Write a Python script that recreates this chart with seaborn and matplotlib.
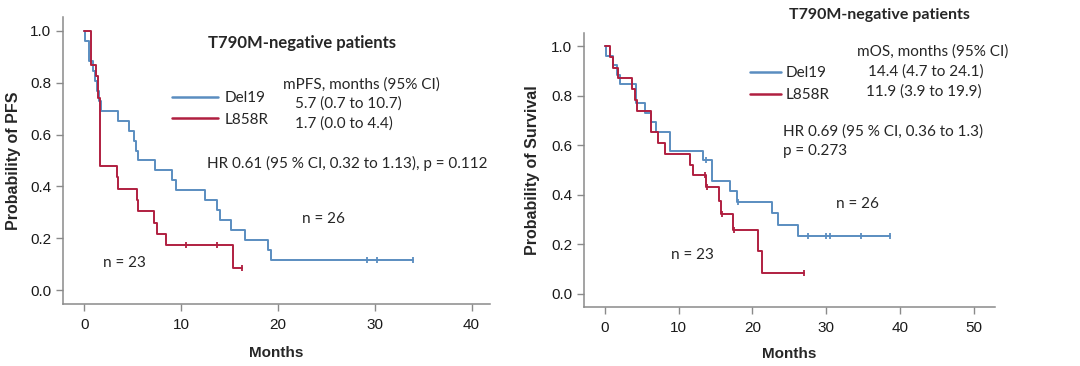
import numpy as np
import pandas as pd
import matplotlib
matplotlib.use("Agg")
import matplotlib.pyplot as plt
import seaborn as sns
from matplotlib.lines import Line2D

# ---------------- data ----------------
groups = ["Del19", "L858R"]

# PFS (left panel) : times in months, event 1 = progression, 0 = censored
pfs_del19_time = [0.1, 0.5, 0.5, 0.9, 1.1, 1.3, 1.5, 1.75, 3.5, 4.6, 5.1, 5.3, 5.6,
                  7.3, 9.1, 9.5, 12.5, 13.7, 14.0, 15.2, 16.6, 19.0, 19.3,
                  29.2, 30.2, 33.9]
pfs_del19_event = [1] * 23 + [0] * 3
pfs_l858r_time = [0.7, 0.7, 0.7, 1.2, 1.4, 1.4, 1.6, 1.6, 1.6, 1.6, 1.6, 1.6,
                  3.4, 3.5, 5.4, 5.6, 7.25, 7.5, 8.45, 10.5, 13.7, 15.4, 16.3]
pfs_l858r_event = [1] * 19 + [0, 0, 1, 0]

# OS (right panel)
os_del19_time = [0.2, 1.1, 1.6, 2.0, 4.2, 4.2, 5.4, 6.3, 6.9, 8.8, 8.8, 13.3,
                 13.7, 14.5, 14.5, 17.0, 17.9, 18.0, 22.6, 23.5, 26.2,
                 27.6, 30.0, 30.5, 34.7, 38.6]
os_del19_event = [1] * 12 + [0] + [1, 1, 1, 1] + [0] + [1, 1, 1] + [0] * 5
os_l858r_time = [0.7, 1.1, 1.7, 3.6, 4.1, 4.4, 6.2, 6.2, 7.2, 8.1, 11.5, 12.0,
                 13.6, 13.7, 13.8, 15.4, 15.8, 15.9, 17.4, 17.5, 20.8, 21.3, 27.0]
os_l858r_event = [1] * 12 + [0, 1, 0, 1, 1, 0, 1, 0, 1, 1, 0]

pfs_title = "T790M-negative patients"
pfs_header = "mPFS, months (95% CI)"
pfs_medians = ["5.7 (0.7 to 10.7)", "1.7 (0.0 to 4.4)"]
pfs_hr = "HR 0.61 (95 % CI, 0.32 to 1.13), p = 0.112"
os_title = "T790M-negative patients"
os_header = "mOS, months (95% CI)"
os_medians = ["14.4 (4.7 to 24.1)", "11.9 (3.9 to 19.9)"]
os_hr = ["HR 0.69 (95 % CI, 0.36 to 1.3)", "p = 0.273"]
n_labels = ["n = 26", "n = 23"]

left_xticks = [0, 10, 20, 30, 40]
right_xticks = [0, 10, 20, 30, 40, 50]
yticks = [0.0, 0.2, 0.4, 0.6, 0.8, 1.0]

BLUE = "#5a8dc0"
RED = "#b01f40"
palette = {"Del19": BLUE, "L858R": RED}


def km(times, events):
    t = np.asarray(times, float)
    e = np.asarray(events, int)
    xs, ys, s = [0.0], [1.0], 1.0
    for u in np.unique(t):
        n = np.sum(t >= u)
        d = np.sum((t == u) & (e == 1))
        if d > 0:
            s *= 1 - d / n
            xs.append(u)
            ys.append(s)
    ev_x = list(xs)
    xs.append(t.max())
    ys.append(s)
    cx = t[e == 0]
    cy = [ys[np.searchsorted(ev_x, c, side="right") - 1] for c in cx]
    return xs, ys, cx, cy


def build(data):
    curves, cens = [], []
    for g, (tt, ee) in zip(groups, data):
        xs, ys, cx, cy = km(tt, ee)
        curves.append(pd.DataFrame({"Months": xs, "S": ys, "Group": g}))
        cens.append(pd.DataFrame({"Months": cx, "S": cy, "Group": g}))
    return pd.concat(curves, ignore_index=True), pd.concat(cens, ignore_index=True)


sns.set_style("ticks")
plt.rcParams["font.family"] = ["Liberation Sans", "DejaVu Sans"]
ANN = ["Lato", "DejaVu Sans"]
SPINE = "#8a8a8a"

fig = plt.figure(figsize=(10.8, 3.66), dpi=100)
ax1 = fig.add_axes([0.0583, 0.1694, 0.3954, 0.7842])
ax2 = fig.add_axes([0.5407, 0.1612, 0.3806, 0.7486])


def draw(ax, data, xlim, xticks):
    cdf, sdf = build(data)
    sns.lineplot(data=cdf, x="Months", y="S", hue="Group", palette=palette,
                 drawstyle="steps-post", estimator=None, sort=False,
                 legend=False, linewidth=1.4, ax=ax)
    for g in groups:
        sub = sdf[sdf["Group"] == g]
        sns.scatterplot(data=sub, x="Months", y="S", color=palette[g],
                        marker="|", s=22, linewidth=1.3, legend=False, ax=ax)
    ax.set_xlim(*xlim)
    ax.set_ylim(-0.053, 1.053)
    ax.set_xticks(xticks)
    ax.set_yticks(yticks)
    ax.set_yticklabels([f"{v:.1f}" for v in yticks])
    sns.despine(ax=ax)
    for sp in ("left", "bottom"):
        ax.spines[sp].set_color(SPINE)
        ax.spines[sp].set_linewidth(1.1)
    ax.tick_params(axis="both", colors=SPINE, labelcolor="#1a1a1a",
                   labelsize=11, length=5, width=1.0)
    ax.tick_params(axis="x", pad=5)
    ax.set_xlabel("Months", fontsize=11, fontweight="bold")


def add_legend(ax, anchor, hl, tp, ls):
    ax.legend(handles=[Line2D([], [], color=palette[g], lw=1.8, label=g) for g in groups],
              frameon=False, prop={"family": ANN, "size": 11},
              loc="upper left", bbox_to_anchor=anchor, borderpad=0,
              borderaxespad=0, handlelength=hl, handletextpad=tp, labelspacing=ls)


# ---- left panel ----
draw(ax1, [(pfs_del19_time, pfs_del19_event), (pfs_l858r_time, pfs_l858r_event)],
     (-2.2, 41.9), left_xticks)
add_legend(ax1, (0.255, 0.742), 3.0, 0.45, 0.5)
ax1.set_ylabel("Probability of PFS", fontsize=11.5, fontweight="bold")
ax1.yaxis.set_label_coords(-0.098, 0.5)
ax1.xaxis.set_label_coords(0.5, -0.148)
T = ax1.transAxes
ax1.text(0.56, 0.909, pfs_title, transform=T, ha="center", va="center",
         fontsize=12, fontweight="bold", family=ANN)
ax1.text(0.515, 0.766, pfs_header, transform=T, ha="left", va="center", fontsize=11, family=ANN)
ax1.text(0.543, 0.700, pfs_medians[0], transform=T, ha="left", va="center", fontsize=11, family=ANN)
ax1.text(0.543, 0.630, pfs_medians[1], transform=T, ha="left", va="center", fontsize=11, family=ANN)
ax1.text(0.337, 0.491, pfs_hr, transform=T, ha="left", va="center", fontsize=11, family=ANN)
ax1.text(0.560, 0.296, n_labels[0], transform=T, ha="left", va="center", fontsize=11, family=ANN)
ax1.text(0.094, 0.143, n_labels[1], transform=T, ha="left", va="center", fontsize=11, family=ANN)

# ---- right panel ----
draw(ax2, [(os_del19_time, os_del19_event), (os_l858r_time, os_l858r_event)],
     (-2.85, 52.9), right_xticks)
add_legend(ax2, (0.404, 0.878), 2.0, 0.35, 0.5)
ax2.set_ylabel("Probability of Survival", fontsize=11.5, fontweight="bold")
ax2.yaxis.set_label_coords(-0.108, 0.5)
ax2.xaxis.set_label_coords(0.5, -0.145)
T = ax2.transAxes
ax2.text(0.718, 1.066, os_title, transform=T, ha="center", va="center",
         fontsize=11.5, fontweight="bold", family=ANN, clip_on=False)
ax2.text(0.664, 0.931, os_header, transform=T, ha="left", va="center", fontsize=11, family=ANN)
ax2.text(0.691, 0.858, os_medians[0], transform=T, ha="left", va="center", fontsize=11, family=ANN)
ax2.text(0.686, 0.785, os_medians[1], transform=T, ha="left", va="center", fontsize=11, family=ANN)
ax2.text(0.484, 0.642, os_hr[0], transform=T, ha="left", va="center", fontsize=11, family=ANN)
ax2.text(0.484, 0.569, os_hr[1], transform=T, ha="left", va="center", fontsize=11, family=ANN)
ax2.text(0.613, 0.376, n_labels[0], transform=T, ha="left", va="center", fontsize=11, family=ANN)
ax2.text(0.212, 0.190, n_labels[1], transform=T, ha="left", va="center", fontsize=11, family=ANN)

fig.savefig("out.png", dpi=100)
